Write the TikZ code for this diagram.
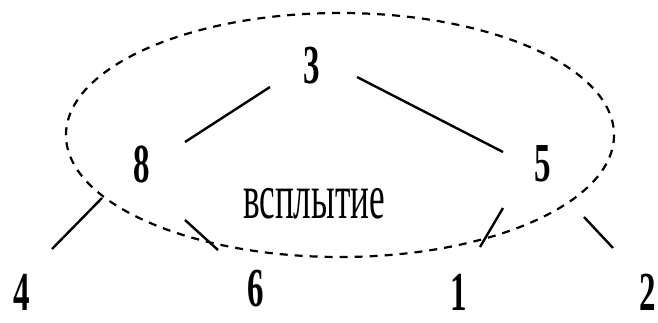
\documentclass[tikz,border=0pt]{standalone}
\usepackage{fontspec}
\setmainfont{Liberation Serif}
\usepackage{graphicx}
\usepackage{tikz}
\usetikzlibrary{positioning}

\tikzset{
    key/.style={font=\fontsize{55}{55}\selectfont\bfseries, inner sep=0pt},
    edge/.style={line width=2.4pt},
}

\begin{document}
\begin{tikzpicture}[x=1pt, y=-1pt]
    \useasboundingbox (0,0) rectangle (658,322);
    % Heap region
    \draw[line width=2.2pt, dash pattern=on 8pt off 7pt] (340,135) ellipse [x radius=274, y radius=122];
    \node[font=\fontsize{64}{64}\selectfont, inner sep=0pt] (label) at (314,204) {\scalebox{0.55}[1]{всплытие}};
    % Keys
    \node[key] (n3) at (312,66) {\scalebox{0.6}[1]{3}};
    \node[key] (n8) at (142,164) {\scalebox{0.6}[1]{8}};
    \node[key] (n5) at (543,164) {\scalebox{0.6}[1]{5}};
    \node[key] (n4) at (22,292) {\scalebox{0.6}[1]{4}};
    \node[key] (n6) at (256,289) {\scalebox{0.6}[1]{6}};
    \node[key] (n1) at (459,292) {\scalebox{0.6}[1]{1}};
    \node[key] (n2) at (648,292) {\scalebox{0.6}[1]{2}};
    % Edges
    \draw[edge] ([shift={(-42,21)}]n3.center) -- ([shift={(43,-22)}]n8.center);
    \draw[edge] ([shift={(45,11)}]n3.center) -- ([shift={(-40,-12)}]n5.center);
    \draw[edge] ([shift={(-40,34)}]n8.center) -- ([shift={(30,-43)}]n4.center);
    \draw[edge] ([shift={(43,56)}]n8.center) -- ([shift={(-38,-39)}]n6.center);
    \draw[edge] ([shift={(-40,44)}]n5.center) -- ([shift={(21,-45)}]n1.center);
    \draw[edge] ([shift={(41,53)}]n5.center) -- ([shift={(-35,-44)}]n2.center);
\end{tikzpicture}
\end{document}
